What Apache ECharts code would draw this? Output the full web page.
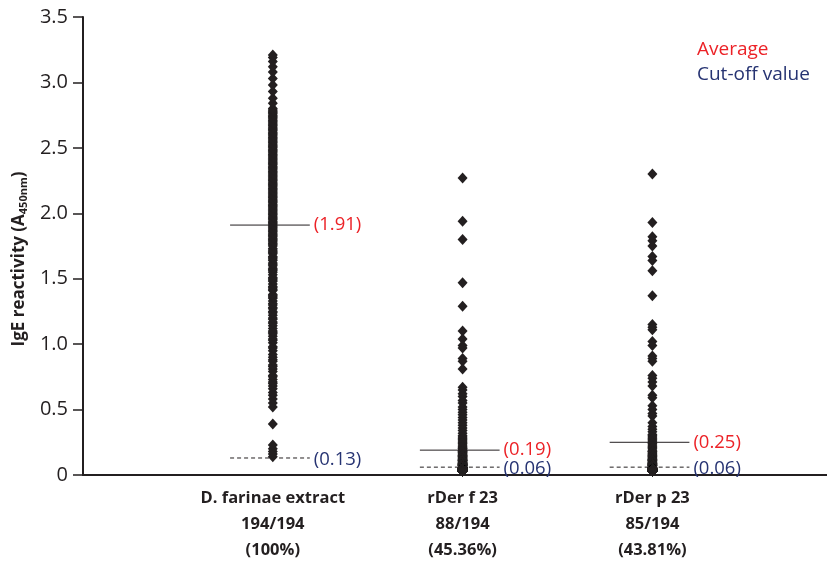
<!DOCTYPE html>
<html>
<head>
<meta charset="utf-8">
<script src="https://cdn.jsdelivr.net/npm/echarts@6/dist/echarts.min.js"></script>
<style>html,body{margin:0;padding:0;background:#fff}#c{width:827px;height:563px}</style>
</head>
<body>
<div id="c"></div>
<script>
// ---- data ----
const categories = ['D. farinae extract', 'rDer f 23', 'rDer p 23'];
const positives = ['194/194', '88/194', '85/194'];
const percents = ['(100%)', '(45.36%)', '(43.81%)'];
const averages = [1.91, 0.19, 0.25];
const cutoffs = [0.13, 0.06, 0.06];
const yTicks = [0, 0.5, 1.0, 1.5, 2.0, 2.5, 3.0, 3.5];

const farinaeExtract = [
  0.14,0.16,0.18,0.20,0.23,0.39,0.52,0.55,0.58,0.61,0.63,
  0.66,0.68,0.70,0.71,0.73,0.75,0.76,0.79,0.81,0.83,0.84,0.87,0.88,0.90,0.92,0.95,0.97,0.98,
  1.01,1.03,1.04,1.06,1.08,1.09,1.10,1.12,1.14,1.16,1.17,1.19,1.20,1.22,1.24,1.25,1.27,1.28,
  1.30,1.31,1.33,1.35,1.36,1.37,1.38,1.41,1.42,1.43,1.44,1.46,1.48,1.49,1.50,1.51,1.53,1.55,
  1.56,1.57,1.58,1.60,1.61,1.62,1.64,1.65,1.66,1.67,1.69,1.70,1.71,1.72,1.73,1.75,1.76,1.77,
  1.78,1.79,1.80,1.81,1.82,1.83,1.84,1.85,1.86,1.87,1.88,1.89,1.90,1.91,1.92,1.93,1.94,1.95,
  1.96,1.97,1.98,1.99,2.00,2.01,2.02,2.03,2.04,2.05,2.06,2.07,2.08,2.09,2.10,2.11,2.12,2.13,
  2.14,2.15,2.16,2.17,2.18,2.19,2.20,2.21,2.22,2.23,2.24,2.25,2.26,2.27,2.28,2.29,2.30,2.31,
  2.32,2.33,2.34,2.35,2.36,2.37,2.38,2.39,2.40,2.41,2.42,2.43,2.44,2.45,2.46,2.47,2.48,2.49,
  2.50,2.51,2.52,2.53,2.54,2.55,2.56,2.57,2.58,2.59,2.60,2.61,2.62,2.63,2.64,2.65,2.66,2.67,
  2.68,2.69,2.70,2.71,2.72,2.73,2.74,2.75,2.76,2.77,2.78,2.79,2.80,
  2.84,2.88,2.93,2.98,3.03,3.08,3.12,3.16,3.19,3.21
];
const rDerF23 = [
  2.27,1.94,1.80,1.47,1.29,1.10,1.04,0.99,0.97,0.89,0.87,0.81,
  0.67,0.65,0.62,0.60,0.57,0.55,0.52,0.50,0.48,0.46,0.44,0.42,0.40,0.38,0.36,0.34,0.32,0.30,
  0.29,0.28,0.27,0.26,0.25,0.24,0.23,0.22,0.21,0.20,0.20,0.19,0.19,0.18,0.18,0.17,0.17,0.16,
  0.16,0.15,0.15,0.15,0.14,0.14,0.14,0.13,0.13,0.13,0.12,0.12,0.12,0.11,0.11,0.11,0.11,0.10,
  0.10,0.10,0.10,0.09,0.09,0.09,0.09,0.09,0.08,0.08,0.08,0.08,0.08,0.08,0.07,0.07,0.07,0.07,
  0.07,0.07,0.07,0.06,0.06,0.06,0.06,0.06,0.06,0.06,0.06,0.05,0.05,0.05,0.05,0.05,0.05,0.05,
  0.05,0.05,0.05,0.05,0.05,0.05,0.05,0.05,0.05,0.05,0.05,0.05,0.05,0.04,0.04,0.04,0.04,0.04,
  0.04,0.04,0.04,0.04,0.04,0.04,0.04,0.04,0.04,0.04,0.04,0.04,0.04,0.04,0.04,0.04,0.04,0.04,
  0.04,0.04,0.04,0.04,0.04,0.04,0.04,0.04,0.04,0.04,0.04,0.04,0.03,0.03,0.03,0.03,0.03,0.03,
  0.03,0.03,0.03,0.03,0.03,0.03,0.03,0.03,0.03,0.03,0.03,0.03,0.03,0.03,0.03,0.03,0.03,0.03,
  0.03,0.03,0.03,0.03,0.03,0.03,0.03,0.03,0.03,0.03,0.03,0.03,0.03,0.03,0.03,0.03,0.03,0.03,
  0.03,0.03
];
const rDerP23 = [
  2.30,1.93,1.82,1.79,1.75,1.67,1.64,1.56,1.37,1.15,1.13,1.11,1.02,0.99,
  0.91,0.89,0.87,0.76,0.74,0.71,0.68,0.61,0.59,0.53,0.50,0.47,0.45,0.40,0.37,0.35,
  0.33,0.31,0.30,0.29,0.28,0.27,0.26,0.25,0.24,0.23,0.22,
  0.21,0.20,0.19,0.18,0.18,0.17,0.16,0.16,0.15,0.15,0.14,0.14,0.13,0.13,0.12,0.12,0.12,0.11,
  0.11,0.11,0.10,0.10,0.10,0.09,0.09,0.09,0.09,0.08,0.08,0.08,0.08,0.07,0.07,0.07,0.07,0.07,
  0.06,0.06,0.06,0.06,0.06,0.06,0.05,0.05,0.05,0.05,0.05,0.05,0.05,0.05,0.05,0.05,0.05,0.05,
  0.05,0.05,0.05,0.05,0.05,0.05,0.05,0.05,0.04,0.04,0.04,0.04,0.04,0.04,0.04,0.04,0.04,0.04,
  0.04,0.04,0.04,0.04,0.04,0.04,0.04,0.04,0.04,0.04,0.04,0.04,0.04,0.04,0.04,0.04,0.04,0.04,
  0.04,0.04,0.04,0.04,0.04,0.04,0.04,0.04,0.04,0.04,0.03,0.03,0.03,0.03,0.03,0.03,0.03,0.03,
  0.03,0.03,0.03,0.03,0.03,0.03,0.03,0.03,0.03,0.03,0.03,0.03,0.03,0.03,0.03,0.03,0.03,0.03,
  0.03,0.03,0.03,0.03,0.03,0.03,0.03,0.03,0.03,0.03,0.03,0.03,0.03,0.03,0.03,0.03,0.03,0.03,
  0.03,0.03,0.03,0.03,0.03,0.03,0.03,0.03,0.03,0.03,0.03,0.03,0.03,0.03,0.03,0.03,0.03,0.03,
  0.03,0.03,0.03,0.03
];
const groups = [farinaeExtract, rDerF23, rDerP23];

// ---- styling ----
const FONT = '"Open Sans", "Noto Sans", sans-serif';
const RED = '#ec2227';
const NAVY = '#263372';
const INK = '#231f20';
const LINE_LEFT = 0.225, LINE_RIGHT = 0.195;

const chart = echarts.init(document.getElementById('c'));
const series = [];
groups.forEach((vals, i) => {
  const x = i + 1;
  series.push({
    type: 'scatter', symbol: 'diamond', symbolSize: [10, 11],
    itemStyle: { color: INK, opacity: 1 },
    data: vals.map(v => [x, v]), z: 3, silent: true
  });
  series.push({
    type: 'line', symbol: 'none', silent: true, z: 4,
    lineStyle: { color: INK, width: 1 },
    data: [[x - LINE_LEFT, averages[i]], [x + LINE_RIGHT, averages[i]]],
    endLabel: { show: true, formatter: '(' + averages[i].toFixed(2) + ')', color: RED,
      fontFamily: FONT, fontSize: 18.5, distance: 4 }
  });
  series.push({
    type: 'line', symbol: 'none', silent: true, z: 4,
    lineStyle: { color: INK, width: 1, type: [4, 3] },
    data: [[x - LINE_LEFT, cutoffs[i]], [x + LINE_RIGHT, cutoffs[i]]],
    endLabel: { show: true, formatter: '(' + cutoffs[i].toFixed(2) + ')', color: NAVY,
      fontFamily: FONT, fontSize: 18.5, distance: 4, offset: [0, 2] }
  });
});

chart.setOption({
  animation: false,
  grid: { left: 83, right: 0, top: 17, bottom: 83 },
  xAxis: {
    type: 'value', min: 0, max: 3.92, interval: 1,
    axisLine: { lineStyle: { color: INK, width: 2 } },
    axisTick: { show: false }, splitLine: { show: false },
    axisLabel: {
      margin: 10, lineHeight: 26, fontFamily: FONT, fontSize: 16.5, fontWeight: 'bold', color: INK,
      showMaxLabel: false,
      formatter: v => {
        const i = Math.round(v) - 1;
        if (Math.abs(v - Math.round(v)) > 1e-6 || i < 0 || i > 2) return '';
        return categories[i] + '\n' + positives[i] + '\n' + percents[i];
      }
    }
  },
  yAxis: {
    type: 'value', min: yTicks[0], max: yTicks[yTicks.length - 1], interval: 0.5,
    name: '{b|IgE reactivity (A}{s|450nm}{b|)}', nameLocation: 'middle', nameGap: 52, nameRotate: 90,
    nameTextStyle: {
      padding: [0, 26, 0, 0],
      rich: {
        b: { fontFamily: FONT, fontSize: 17, fontWeight: 'bold', color: INK },
        s: { fontFamily: FONT, fontSize: 11, fontWeight: 'bold', color: INK, verticalAlign: 'bottom', padding: [9, 0, 0, 0] }
      }
    },
    axisLine: { show: true, lineStyle: { color: INK, width: 2 } },
    axisTick: { show: true, length: 10, lineStyle: { color: INK, width: 1.5 } },
    splitLine: { show: false },
    axisLabel: { margin: 15, fontFamily: FONT, fontSize: 20, color: INK,
      formatter: v => v === 0 ? '0' : v.toFixed(1) }
  },
  graphic: [
    { type: 'text', left: 697, top: 40, style: { text: 'Average', fill: RED, font: '19px ' + FONT } },
    { type: 'text', left: 697, top: 65, style: { text: 'Cut-off value', fill: NAVY, font: '19px ' + FONT } }
  ],
  series: series
});
</script>
</body>
</html>
